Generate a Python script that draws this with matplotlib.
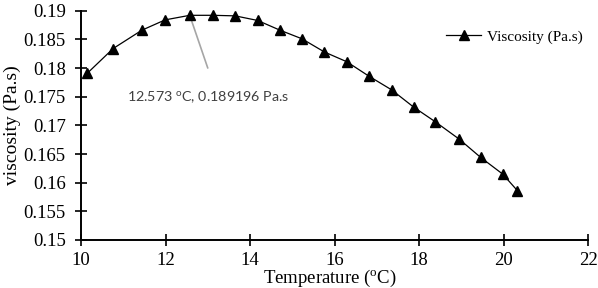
import matplotlib
matplotlib.use("Agg")
import matplotlib.pyplot as plt

# data
temp_c = [10.15, 10.76, 11.44, 11.99, 12.573, 13.12, 13.65, 14.18, 14.71, 15.23,
          15.76, 16.29, 16.81, 17.35, 17.87, 18.39, 18.95, 19.46, 19.98, 20.33]
visc_pas = [0.1791, 0.1834, 0.1866, 0.1884, 0.189196, 0.1892, 0.1891, 0.1883, 0.1866, 0.1851,
            0.1828, 0.1811, 0.1786, 0.1762, 0.1732, 0.1706, 0.1676, 0.1644, 0.1615, 0.1586]
x_ticks = [10, 12, 14, 16, 18, 20, 22]
y_ticks = [0.15, 0.155, 0.16, 0.165, 0.17, 0.175, 0.18, 0.185, 0.19]
y_ticklabels = ["0.15", "0.155", "0.16", "0.165", "0.17", "0.175", "0.18", "0.185", "0.19"]
peak = (12.573, 0.189196)
leader_end = (13.0, 0.180)
peak_label = "12.573 $^{o}$C, 0.189196 Pa.s"

plt.rcParams["font.family"] = ["Liberation Serif", "DejaVu Serif"]
plt.rcParams["mathtext.default"] = "regular"

fig = plt.figure(figsize=(5.98, 2.88), dpi=100)
ax = fig.add_axes([0.1355, 0.1667, 0.8478, 0.7961])

ax.plot(temp_c, visc_pas, color="black", lw=0.9, marker="^", ms=7,
        mfc="black", mec="black", clip_on=False, zorder=3, label="Viscosity (Pa.s)")

ax.set_xlim(10, 22)
ax.set_ylim(0.15, 0.19)
ax.set_xticks(x_ticks)
ax.set_yticks(y_ticks)
ax.set_yticklabels(y_ticklabels)
ax.tick_params(axis="both", direction="inout", length=9, width=1.2,
               labelsize=13.5, colors="black")
ax.tick_params(axis="x", pad=4)
ax.tick_params(axis="y", pad=6.5)
for s in ["top", "right"]:
    ax.spines[s].set_visible(False)
for s in ["left", "bottom"]:
    ax.spines[s].set_linewidth(1.4)

ax.set_xlabel(r"Temperature ($^{o}$C)", fontsize=13.5)
ax.xaxis.set_label_coords(0.491, -0.121)
ax.set_ylabel("viscosity (Pa.s)", fontsize=14)
ax.yaxis.set_label_coords(-0.118, 0.5)

# data label with grey leader line
ax.annotate("", xy=peak, xytext=leader_end,
            arrowprops=dict(arrowstyle="-", color="#a6a6a6", lw=1.2,
                            shrinkA=0, shrinkB=0), zorder=2)
ax.text(13.02, 0.1749, peak_label, ha="center", va="center", fontsize=10.3,
        color="#404040", family=["Lato", "DejaVu Sans"])

ax.legend(loc="center left", bbox_to_anchor=(0.72, 0.887), frameon=False,
          fontsize=11, handlelength=2.3, handletextpad=0.35,
          borderpad=0, borderaxespad=0)

fig.savefig("out.png", dpi=100)
